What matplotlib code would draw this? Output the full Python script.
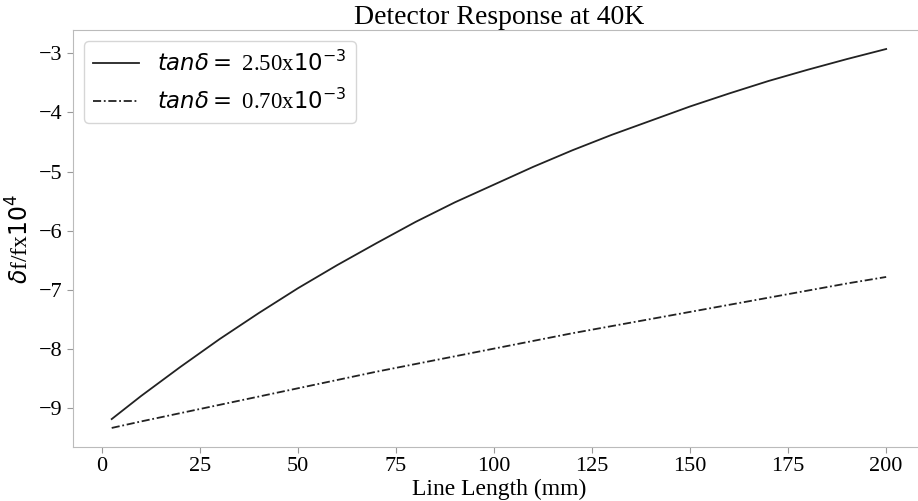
import matplotlib
matplotlib.use('Agg')
import matplotlib.pyplot as plt

plt.rcParams['font.family'] = ['Liberation Serif', 'DejaVu Sans']
plt.rcParams['mathtext.fontset'] = 'dejavusans'

# line length (mm)
dlugosc = [2.5, 10, 20, 30, 40, 50, 60, 70, 80, 90, 100,
           110, 120, 130, 140, 150, 160, 170, 180, 190, 200]

# detector response, tan delta = 2.50e-3
odp_duze = [-9.18, -8.79, -8.30, -7.83, -7.39, -6.97, -6.58, -6.21, -5.85, -5.52, -5.22,
            -4.92, -4.64, -4.38, -4.14, -3.90, -3.68, -3.47, -3.28, -3.10, -2.93]

# detector response, tan delta = 0.70e-3
odp_male = [-9.33, -9.22, -9.08, -8.94, -8.80, -8.66, -8.52, -8.38, -8.25, -8.12, -7.99,
            -7.86, -7.73, -7.61, -7.49, -7.37, -7.25, -7.13, -7.01, -6.89, -6.78]

etykiety = [r'$tan\delta = $ 2.50x$10^{-3}$', r'$tan\delta = $ 0.70x$10^{-3}$']

fig = plt.figure(figsize=(9.18, 5.01), dpi=100)
ax = fig.add_axes([0.0795, 0.108, 0.928, 0.832])

ax.plot(dlugosc, odp_duze, '-', color='#222222', linewidth=1.3, label=etykiety[0])
ax.plot(dlugosc, odp_male, '-.', color='#222222', linewidth=1.3, dashes=(4.5, 1.5, 1, 1.5),
        label=etykiety[1])

ax.set_xticks(range(0, 201, 25))
ax.set_yticks(range(-9, -2))
ax.tick_params(labelsize=16, colors='#999999', labelcolor='black', length=4)
for s in ax.spines.values():
  s.set_color('#bbbbbb')
ax.spines['right'].set_visible(False)  # prawa krawedz i tak wypada za obrazkiem

ax.set_title('Detector Response at 40K', fontsize=20, pad=4)
ax.set_xlabel('Line Length (mm)', fontsize=17, labelpad=2)
ax.set_ylabel(r'$\delta$f/fx$10^4$', fontsize=17)
ax.legend(loc='upper left', fontsize=16.4, handlelength=2.0, labelspacing=0.55)

fig.savefig('out.png', dpi=100)
